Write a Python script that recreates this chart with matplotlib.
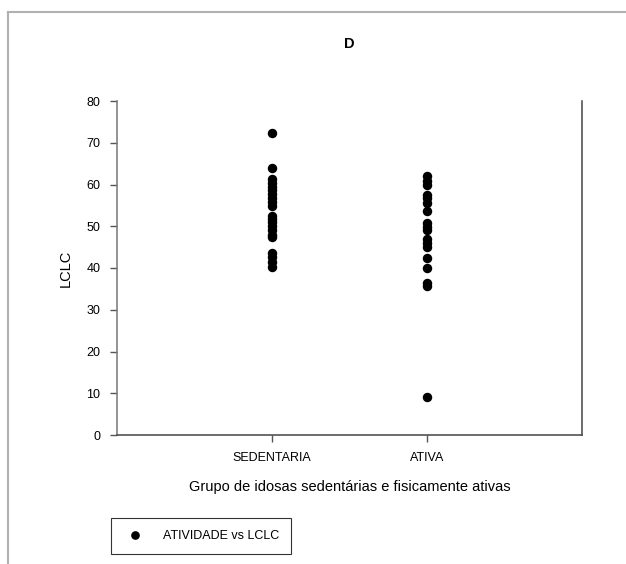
import matplotlib.pyplot as plt
from matplotlib.lines import Line2D

plt.rcParams['font.family'] = ['Liberation Sans', 'DejaVu Sans']

# Data
categories = ["SEDENTARIA", "ATIVA"]
sedentaria = [72.4, 64.0, 61.2, 60.3, 59.5, 58.7, 57.7, 56.7, 55.9, 54.9,
              52.5, 51.7, 50.9, 50.1, 49.1, 47.9, 47.5,
              43.7, 42.7, 41.5, 40.3]
ativa = [62.0, 60.9, 59.9, 57.6, 56.8, 55.6, 53.7,
         50.7, 49.9, 49.1, 46.9, 45.9, 45.0,
         42.3, 40.1, 36.3, 35.6, 9.1]
yticks = [0, 10, 20, 30, 40, 50, 60, 70, 80]

fig = plt.figure(figsize=(6.26, 5.64), dpi=100)
ax = fig.add_axes([117 / 626, 1 - 435 / 564, 465 / 626, 334 / 564])

xs = [1] * len(sedentaria) + [2] * len(ativa)
ys = sedentaria + ativa
ax.plot(xs, ys, linestyle="none", marker="o", color="black", ms=5.8,
        label="ATIVIDADE vs LCLC")

ax.set_xlim(0, 3)
ax.set_ylim(0, 80)
ax.set_xticks([1, 2])
ax.set_xticklabels(categories)
ax.set_yticks(yticks)
ax.tick_params(axis="both", direction="out", length=5, width=1, color="#555555",
               labelsize=9, pad=7)
ax.spines["left"].set_color("#777777")
for side in ["bottom", "right"]:
    ax.spines[side].set_color("#444444")
for side in ["left", "bottom", "right"]:
    ax.spines[side].set_linewidth(1.1)
ax.spines["top"].set_visible(False)

ax.set_xlabel("Grupo de idosas sedentárias e fisicamente ativas", fontsize=10.5, labelpad=12)
ax.set_ylabel("LCLC", fontsize=10.5, labelpad=10)
ax.set_title("D", fontsize=10.5, fontweight="bold", pad=38)

leg = ax.legend(loc="upper left", bbox_to_anchor=(111 / 626, 1 - 518 / 564),
                bbox_transform=fig.transFigure, fontsize=9, frameon=True,
                fancybox=False, edgecolor="black", borderaxespad=0,
                handletextpad=1.2, borderpad=0.95, markerscale=0.9)
leg.get_frame().set_linewidth(0.8)

# light frame around the figure (top and left edges)
fig.add_artist(Line2D([8 / 626, 8 / 626], [0, 1 - 12 / 564], transform=fig.transFigure,
                      color="#b0b0b0", lw=1.5))
fig.add_artist(Line2D([8 / 626, 1], [1 - 12 / 564, 1 - 12 / 564], transform=fig.transFigure,
                      color="#b0b0b0", lw=1.5))

fig.savefig("out.png", dpi=100)
